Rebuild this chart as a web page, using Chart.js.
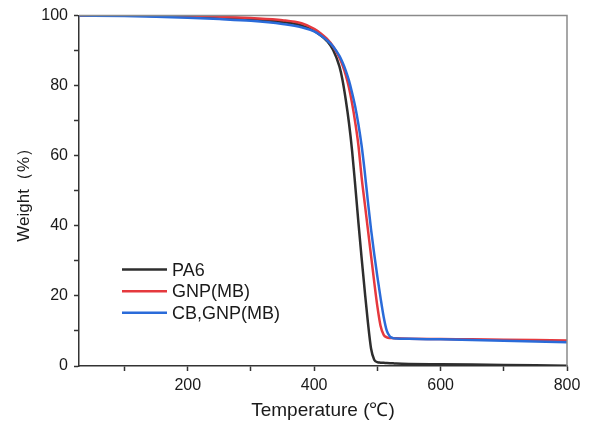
<!DOCTYPE html>
<html>
<head>
<meta charset="utf-8">
<script src="https://cdn.jsdelivr.net/npm/chart.js@4/dist/chart.umd.min.js"></script>
<style>
  body { margin: 0; background: #fff; }
</style>
</head>
<body>
<canvas id="tga" width="592" height="426"></canvas>
<script>
// temperatures (°C) shared by all three curves
const temps = [28, 100, 150, 200, 250, 300, 350, 380, 400, 410, 420, 430, 440, 445, 450, 455, 460, 465, 470, 475,
               480, 485, 490, 495, 500, 505, 510, 515, 520, 525, 530, 550, 600, 650, 700, 750, 800];

const pa6 = [100, 100, 99.9, 99.8, 99.5, 99.0, 98.2, 97.2, 95.6, 94.4, 92.8, 90.2, 85.5, 81.5, 76, 69.5, 61.5, 51.5, 41, 31,
             21.5, 12.5, 5, 1.8, 1.1, 0.95, 0.9, 0.85, 0.8, 0.75, 0.7, 0.6, 0.5, 0.4, 0.3, 0.2, 0.1];

const gnp = [100, 100, 100, 100, 99.7, 99.3, 98.7, 97.8, 96.2, 95.0, 93.4, 91.2, 88.0, 85.8, 83, 79.5, 75, 69.5, 63, 54,
             46.5, 39, 31.5, 24, 17, 11.5, 8.9, 8.2, 8.0, 7.95, 7.9, 7.8, 7.7, 7.6, 7.5, 7.4, 7.3];

const cbGnp = [100, 99.9, 99.7, 99.4, 99.0, 98.5, 97.6, 96.7, 95.5, 94.4, 93.0, 91.2, 88.5, 86.6, 84.3, 81.5, 78, 74, 69, 63,
               55.5, 47, 39, 32, 25.5, 19.5, 14, 10, 8.4, 7.95, 7.85, 7.75, 7.6, 7.4, 7.2, 7.0, 6.8];

const seriesNames = ['PA6', 'GNP(MB)', 'CB,GNP(MB)'];
const seriesColors = ['#2e2e2e', '#e5393e', '#2a6bd9'];

const xTicks = [100, 200, 300, 400, 500, 600, 700, 800];
const yTicks = [0, 10, 20, 30, 40, 50, 60, 70, 80, 90, 100];

const FONT = "'Liberation Sans', Arial, sans-serif";

function pts(ys) {
  return temps.map((t, i) => ({ x: t, y: ys[i] }));
}

// legend inside the plot + gray top/right frame
const frameLegend = {
  id: 'frameLegend',
  afterDatasetsDraw(chart) {
    const { ctx, chartArea: a } = chart;
    ctx.save();
    ctx.strokeStyle = '#8a8a8a';
    ctx.lineWidth = 1.5;
    ctx.beginPath();
    ctx.moveTo(a.left, a.top);
    ctx.lineTo(a.right, a.top);
    ctx.lineTo(a.right, a.bottom);
    ctx.stroke();

    ctx.font = '18px ' + FONT;
    ctx.textBaseline = 'middle';
    ctx.fillStyle = '#1a1a1a';
    chart.data.datasets.forEach((ds, i) => {
      const y = a.top + 254 + i * 21.6;
      ctx.strokeStyle = ds.borderColor;
      ctx.lineWidth = 2.5;
      ctx.beginPath();
      ctx.moveTo(a.left + 43, y);
      ctx.lineTo(a.left + 88, y);
      ctx.stroke();
      ctx.fillText(ds.label, a.left + 93, y + 1);
    });
    ctx.restore();
  }
};

const ctx = document.getElementById('tga').getContext('2d');

new Chart(ctx, {
  type: 'line',
  data: {
    datasets: [
      { label: seriesNames[0], data: pts(pa6), borderColor: seriesColors[0], order: 3 },
      { label: seriesNames[1], data: pts(gnp), borderColor: seriesColors[1], order: 2 },
      { label: seriesNames[2], data: pts(cbGnp), borderColor: seriesColors[2], order: 1 }
    ]
  },
  options: {
    responsive: false,
    animation: false,
    layout: { padding: { top: 15, right: 25, left: 0, bottom: 0 } },
    elements: {
      point: { radius: 0 },
      line: { borderWidth: 2.5, cubicInterpolationMode: 'monotone', fill: false }
    },
    scales: {
      x: {
        type: 'linear',
        min: 28,
        max: 800,
        afterBuildTicks: (s) => { s.ticks = xTicks.map(v => ({ value: v })); },
        afterFit: (s) => { s.height = 60; },
        border: { color: '#333', width: 1.5 },
        grid: { drawOnChartArea: false, tickLength: 5, tickColor: '#333', tickWidth: 1.5 },
        ticks: {
          color: '#1a1a1a',
          font: { family: FONT, size: 16 },
          padding: 5,
          maxRotation: 0,
          callback: (v) => (v % 200 === 0 ? v : '')
        },
        title: {
          display: true,
          text: 'Temperature (℃)',
          color: '#1a1a1a',
          font: { family: FONT, size: 19 },
          padding: { top: 0, bottom: 4 }
        }
      },
      y: {
        min: 0,
        max: 100,
        afterBuildTicks: (s) => { s.ticks = yTicks.map(v => ({ value: v })); },
        afterFit: (s) => { s.width = 79; },
        border: { color: '#333', width: 1.5 },
        grid: { drawOnChartArea: false, tickLength: 5, tickColor: '#333', tickWidth: 1.5 },
        ticks: {
          color: '#1a1a1a',
          font: { family: FONT, size: 16 },
          padding: 6,
          callback: (v) => (v % 20 === 0 ? v : '')
        },
        title: {
          display: true,
          text: 'Weight（%）',
          color: '#1a1a1a',
          font: { family: FONT, size: 17 },
          padding: { top: 14, bottom: 0 }
        }
      }
    },
    plugins: {
      legend: { display: false },
      tooltip: { enabled: false }
    }
  },
  plugins: [frameLegend]
});
</script>
</body>
</html>
